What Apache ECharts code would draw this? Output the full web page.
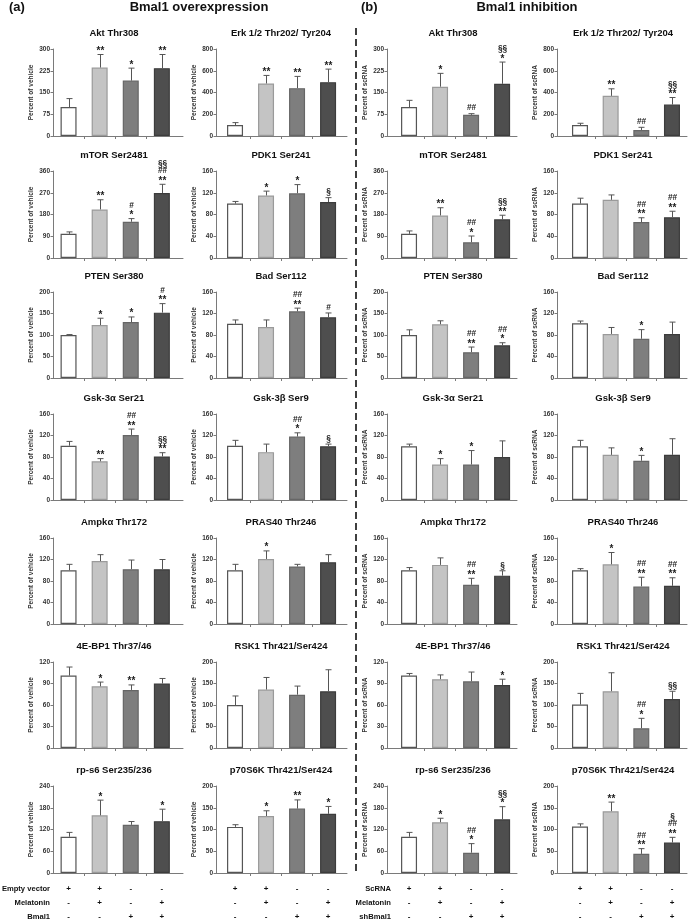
<!DOCTYPE html>
<html><head><meta charset="utf-8">
<script src="https://cdn.jsdelivr.net/npm/echarts@6/dist/echarts.min.js"></script>
<style>html,body{margin:0;padding:0;background:#fff}#c{width:689px;height:920px}</style>
</head><body><div id="c"></div>
<script>
// ---------- data ----------
const panelTitles = ['Akt Thr308','Erk 1/2 Thr202/ Tyr204','mTOR Ser2481','PDK1 Ser241','PTEN Ser380','Bad Ser112',
  'Gsk-3α Ser21','Gsk-3β Ser9','Ampkα Thr172','PRAS40 Thr246','4E-BP1 Thr37/46','RSK1 Thr421/Ser424',
  'rp-s6 Ser235/236','p70S6K Thr421/Ser424'];
const yMax  = [300,800,360,160,200,160,160,160,160,160,120,200,240,200];
const yStep = [75,200,90,40,50,40,40,40,40,40,30,50,60,50];
const groupPos = [0.5,1.5,2.5,3.5];

const meansA = [[100,236,191,234],[100,483,440,495],[100,201,150,269],[100,115,119,103],[100,123,130,152],
  [101,95,124,113],[101,72,121,81],[101,89,118,100],[100,117,102,102],[100,121,107,115],[101,86,81,90],
  [100,136,124,132],[100,159,133,143],[106,131,148,136]];
const errA = [[29,45,43,47],[23,74,108,120],[8,40,13,36],[4,8,16,8],[1,16,12,21],[7,13,6,8],[8,5,11,7],
  [10,15,7,4],[11,12,17,18],[11,15,4,14],[12,6,7,7],[21,28,20,50],[12,42,9,33],[5,12,20,17]];
const marksA = [['','**','*','**'],['','**','**','**'],['','**','#\n*','§§\n##\n**'],['','*','*','§'],
  ['','*','*','#\n**'],['','','##\n**','#'],['','**','##\n**','§§\n**'],['','','##\n*','§'],['','','',''],
  ['','*','',''],['','*','**',''],['','','',''],['','*','','*'],['','*','**','*']];

const meansB = [[100,170,73,180],[100,369,55,289],[100,176,65,160],[100,107,66,75],[100,125,60,76],
  [102,82,73,82],[100,66,66,80],[100,84,73,84],[100,110,73,90],[100,111,70,71],[101,96,93,88],
  [101,132,46,114],[100,140,56,148],[107,142,44,70]];
const errB = [[23,46,4,75],[17,65,25,65],[12,32,26,17],[10,9,8,11],[12,8,12,6],[4,12,17,22],[4,11,26,30],
  [11,13,10,30],[5,13,12,9],[3,22,17,15],[3,6,13,8],[26,43,23,18],[12,11,25,35],[6,21,12,12]];
const marksB = [['','*','##','§§\n*'],['','**','##','§§\n**'],['','**','##\n*','§§\n**'],['','','##\n**','##\n**'],
  ['','','##\n**','##\n*'],['','','*',''],['','*','*',''],['','','*',''],['','','##\n**','§'],
  ['','*','##\n**','##\n**'],['','','','*'],['','','##\n*','§§'],['','*','##\n*','§§\n*'],['','**','##\n**','§\n##\n**']];

const yNameA = 'Percent of vehicle';
const yNameB = 'Percent of scRNA';
const headerA = ['(a)','Bmal1 overexpression'];
const headerB = ['(b)','Bmal1 inhibition'];
const treatA = ['Empty vector','Melatonin','Bmal1'];
const treatB = ['ScRNA','Melatonin','shBmal1'];
const treatSigns = [['+','+','-','-'],['-','+','-','+'],['-','-','+','+']];

// ---------- layout / style ----------
const FONT = 'Liberation Sans, Arial, sans-serif';
const cols = [
  {left:53, width:130, xmin:0, xmax:4.18, tx:114},
  {left:216, width:131, xmin:-0.113, xmax:4.11, tx:281},
  {left:387, width:130, xmin:-0.21, xmax:3.98, tx:453},
  {left:557, width:130, xmin:-0.25, xmax:3.99, tx:623}
];
const rowTop = [49,171,292,414,538,662,786];
const rowBot = [136,258,378,500,624,748,873];
const fills = ['#ffffff','#c4c4c4','#7e7e7e','#4e4e4e'];
const borders = ['#555555','#9a9a9a','#666666','#3c3c3c'];

const grids = [], xAxes = [], yAxes = [], series = [], texts = [];
const halves = [
  {means:meansA, err:errA, marks:marksA, yName:yNameA, colOff:0},
  {means:meansB, err:errB, marks:marksB, yName:yNameB, colOff:2}
];
let gi = 0;
halves.forEach(h => {
  for (let p = 0; p < 14; p++) {
    const r = Math.floor(p/2), c = cols[h.colOff + (p%2)];
    grids.push({left:c.left, width:c.width, top:rowTop[r], height:rowBot[r]-rowTop[r]});
    xAxes.push({gridIndex:gi, type:'value', min:c.xmin, max:c.xmax,
      axisLine:{show:true, onZero:false, lineStyle:{color:'#7a7a7a', width:1}},
      axisTick:{show:true, customValues:[1,2,3], length:3, lineStyle:{color:'#7a7a7a'}},
      axisLabel:{show:false}, splitLine:{show:false}});
    yAxes.push({gridIndex:gi, type:'value', min:0, max:yMax[p], interval:yStep[p],
      name:h.yName, nameLocation:'middle', nameGap:18,
      nameTextStyle:{fontSize:6.5, fontWeight:'bold', fontFamily:FONT, color:'#333'},
      axisLine:{show:true, onZero:false, lineStyle:{color:'#7a7a7a', width:1}},
      axisTick:{show:true, length:2.5, lineStyle:{color:'#7a7a7a'}},
      axisLabel:{fontSize:6.5, fontWeight:'bold', fontFamily:FONT, color:'#333', margin:3},
      splitLine:{show:false}});
    const means = h.means[p], err = h.err[p], marks = h.marks[p];
    series.push({type:'bar', xAxisIndex:gi, yAxisIndex:gi, barWidth:16, silent:true,
      data: means.map((v,i)=>({value:[groupPos[i], v], itemStyle:{color:fills[i], borderColor:borders[i], borderWidth:1.2}}))});
    series.push({type:'custom', xAxisIndex:gi, yAxisIndex:gi, silent:true, z:5,
      data: means.map((v,i)=>[groupPos[i], v, err[i], i]),
      renderItem:(params, api) => {
        const x = api.value(0), m = api.value(1), e = api.value(2), i = api.value(3);
        const b = api.coord([x, m]), t = api.coord([x, m+e]);
        const ch = [];
        const sx = Math.round(b[0]) + 0.5;
        ch.push({type:'line', shape:{x1:sx, y1:b[1], x2:sx, y2:t[1]}, style:{stroke:'#555', lineWidth:1}});
        ch.push({type:'line', shape:{x1:sx-3, y1:t[1], x2:sx+3, y2:t[1]}, style:{stroke:'#555', lineWidth:1}});
        if (marks[i]) {
          marks[i].split('\n').reverse().forEach((ln, k) => {
            const star = ln.indexOf('*') >= 0;
            const vy = t[1] - 5.5 - k*7.7;
            ch.push({type:'text', style:{text:ln, x:sx, y: vy + (star ? 2.3 : 0), align:'center', verticalAlign:'middle',
              fontSize: star ? 10 : 8.3, fontWeight:'bold', fontFamily:FONT, fill:'#222'}});
          });
        }
        return {type:'group', children:ch};
      }});
    texts.push({type:'text', x:c.tx, y:rowTop[r]-16, style:{text:panelTitles[p], font:'bold 9.5px '+FONT, fill:'#111', textAlign:'center', textVerticalAlign:'middle'}});
    gi++;
  }
});

const chart = echarts.init(document.getElementById('c'), null, {renderer:'canvas'});
chart.setOption({animation:false, grid:grids, xAxis:xAxes, yAxis:yAxes, series:series});

// headers
texts.push({type:'text', x:9, y:7, style:{text:headerA[0], font:'bold 13px '+FONT, fill:'#111', textAlign:'left', textVerticalAlign:'middle'}});
texts.push({type:'text', x:199, y:7, style:{text:headerA[1], font:'bold 13px '+FONT, fill:'#111', textAlign:'center', textVerticalAlign:'middle'}});
texts.push({type:'text', x:361, y:7, style:{text:headerB[0], font:'bold 13px '+FONT, fill:'#111', textAlign:'left', textVerticalAlign:'middle'}});
texts.push({type:'text', x:527, y:7, style:{text:headerB[1], font:'bold 13px '+FONT, fill:'#111', textAlign:'center', textVerticalAlign:'middle'}});
// treatment table
const treatY = [889, 903, 917];
[[treatA, 12, 13, 50], [treatB, 26, 27, 391]].forEach(([labels, g1, g2, lx]) => {
  labels.forEach((lab, k) => {
    texts.push({type:'text', x:lx, y:treatY[k], style:{text:lab, font:'bold 7.6px '+FONT, fill:'#111', textAlign:'right', textVerticalAlign:'middle'}});
    [g1, g2].forEach(g => {
      groupPos.forEach((gp, i) => {
        const px = chart.convertToPixel({xAxisIndex:g}, gp);
        texts.push({type:'text', x:px, y:treatY[k], style:{text:treatSigns[k][i], font:'bold 8px '+FONT, fill:'#111', textAlign:'center', textVerticalAlign:'middle'}});
      });
    });
  });
});
texts.push({type:'line', shape:{x1:356, y1:28, x2:356, y2:873}, style:{stroke:'#111', lineWidth:1.6, lineDash:[7,4]}});
chart.setOption({graphic:{elements:texts}});
</script></body></html>
